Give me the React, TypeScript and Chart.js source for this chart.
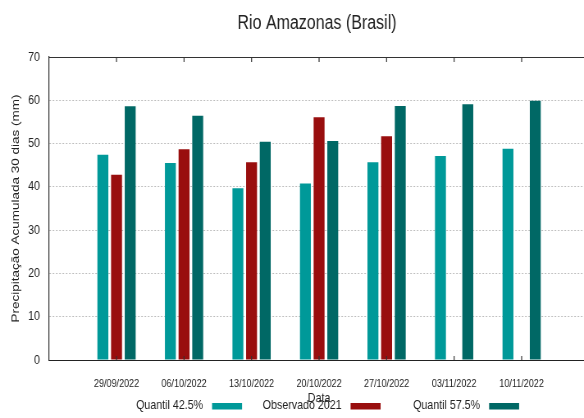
import React, { useEffect, useRef } from 'react';
import { Chart, registerables } from 'chart.js';

Chart.register(...registerables);

const categories = ['29/09/2022', '06/10/2022', '13/10/2022', '20/10/2022', '27/10/2022', '03/11/2022', '10/11/2022'];
const quantil425: (number | null)[] = [47.4, 45.5, 39.7, 40.8, 45.7, 47.1, 48.8];
const observado2021: (number | null)[] = [42.8, 48.7, 45.7, 56.1, 51.7, null, null];
const quantil575: (number | null)[] = [58.6, 56.4, 50.4, 50.6, 58.7, 59.1, 59.9];
const yTicks = [0, 10, 20, 30, 40, 50, 60, 70];
const seriesLabels = ['Quantil 42.5%', 'Observado 2021', 'Quantil 57.5%'];
const seriesColors = ['#009999', '#990e0e', '#006865'];
const chartTitle = 'Rio Amazonas (Brasil)';
const xTitle = 'Data';
const yTitle = 'Precipitação Acumulada 30 dias (mm)';

const SANS = "'Liberation Sans', Arial, sans-serif";
const TEXT = '#222222';

// The drawing is made on a wider canvas and shown horizontally condensed,
// which gives the narrow lettering of the reference.
const SX = 0.82;
const DISPLAY_W = 634;
const CANVAS_W = Math.round(DISPLAY_W / SX);
const CANVAS_H = 418;
const ix = (v: number) => v / SX;

const pad = (arr: (number | null)[]) => [null, ...arr, null];

const framePlugin = {
  id: 'frameTicks',
  afterDraw(chart: any) {
    const { ctx, chartArea } = chart;
    const xs = chart.scales.x;
    ctx.save();
    ctx.strokeStyle = '#333333';
    ctx.lineWidth = 1;
    ctx.beginPath();
    const topY = Math.round(chartArea.top) + 0.5;
    ctx.moveTo(chartArea.left, topY);
    ctx.lineTo(chartArea.right, topY);
    ctx.stroke();
    ctx.lineWidth = 1.2;
    ctx.beginPath();
    for (let i = 1; i < xs.ticks.length - 1; i++) {
      const px = xs.getPixelForTick(i);
      ctx.moveTo(px, chartArea.top);
      ctx.lineTo(px, chartArea.top + 5);
      ctx.moveTo(px, chartArea.bottom);
      ctx.lineTo(px, chartArea.bottom - 4);
    }
    ctx.stroke();
    ctx.restore();
  },
};

const legendPlugin = {
  id: 'bottomLegend',
  afterDraw(chart: any) {
    const { ctx, chartArea } = chart;
    ctx.save();
    ctx.font = `13px ${SANS}`;
    ctx.textAlign = 'right';
    ctx.textBaseline = 'middle';
    chart.data.datasets.forEach((ds: any, i: number) => {
      const sx = chartArea.left + ix(163 + i * 138.5);
      ctx.fillStyle = TEXT;
      ctx.fillText(ds.label, sx - ix(9), 405);
      ctx.fillStyle = ds.backgroundColor;
      ctx.fillRect(sx, 403, ix(30), 6.5);
    });
    ctx.restore();
  },
};

export default function App() {
  const ref = useRef<HTMLCanvasElement | null>(null);

  useEffect(() => {
    if (!ref.current) return;
    const labels = ['', ...categories, ''];
    const series = [quantil425, observado2021, quantil575];
    const chart = new Chart(ref.current, {
      type: 'bar',
      data: {
        labels,
        datasets: series.map((s, i) => ({
          label: seriesLabels[i],
          data: pad(s),
          backgroundColor: seriesColors[i],
          borderWidth: 0,
          categoryPercentage: 0.607,
          barPercentage: 0.8,
        })),
      },
      options: {
        animation: false,
        responsive: false,
        devicePixelRatio: 1,
        layout: { padding: { left: 0, right: 0, top: 0, bottom: 12 } },
        plugins: {
          legend: { display: false },
          tooltip: { enabled: false },
          title: {
            display: true,
            text: chartTitle,
            color: TEXT,
            font: { family: SANS, size: 19.5, weight: 'normal' },
            padding: { top: 12, bottom: 21.6 },
          },
        },
        scales: {
          x: {
            offset: false,
            afterFit: (s: any) => { s.height = 46; },
            grid: { display: false, drawTicks: false },
            border: { display: true, color: '#222222', width: 1 },
            ticks: {
              autoSkip: false,
              maxRotation: 0,
              minRotation: 0,
              color: TEXT,
              font: { family: SANS, size: 11 },
              padding: 17,
            },
            title: {
              display: true,
              text: xTitle,
              color: TEXT,
              font: { family: SANS, size: 13 },
              padding: { top: 0, bottom: 0 },
            },
          },
          y: {
            min: 0,
            max: 70,
            afterFit: (s: any) => { s.width = ix(49); },
            afterBuildTicks: (s: any) => { s.ticks = yTicks.map((v) => ({ value: v })); },
            grid: {
              drawTicks: false,
              lineWidth: 1,
              color: (c: any) =>
                c.tick && (c.tick.value === 0 || c.tick.value === 70) ? 'rgba(0,0,0,0)' : '#bdbdbd',
            },
            border: { display: true, color: '#333333', width: 1.2, dash: [2, 2] },
            ticks: { color: TEXT, font: { family: SANS, size: 13 }, padding: ix(9) },
            title: {
              display: true,
              text: yTitle,
              color: TEXT,
              font: { family: SANS, size: 13.5 },
              padding: { top: ix(16) - 8.1, bottom: 0 },
            },
          },
          yRight: {
            position: 'right',
            min: 0,
            max: 70,
            afterFit: (s: any) => { s.width = CANVAS_W - ix(589); },
            grid: { display: false, drawTicks: false },
            border: { display: false },
            ticks: { display: false },
          },
        },
      },
      plugins: [framePlugin, legendPlugin],
    });
    return () => chart.destroy();
  }, []);

  return (
    <div style={{ position: 'fixed', left: 0, top: 0, width: 584, height: 418, overflow: 'hidden', background: '#fff' }}>
      <canvas
        ref={ref}
        width={CANVAS_W}
        height={CANVAS_H}
        style={{ display: 'block', width: DISPLAY_W, height: CANVAS_H }}
      />
    </div>
  );
}
